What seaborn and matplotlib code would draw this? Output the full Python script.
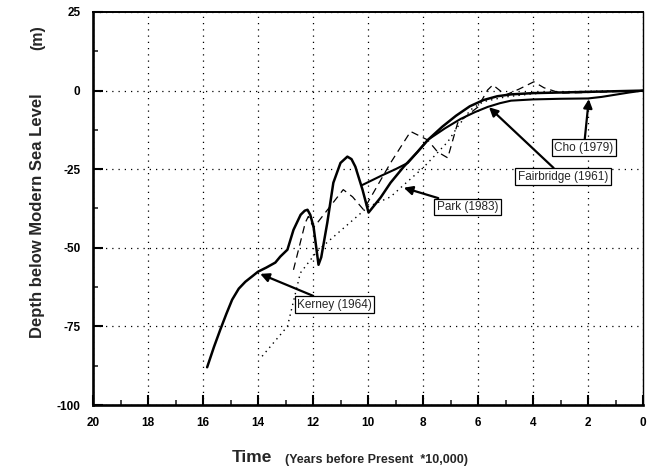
import numpy as np
import pandas as pd
import matplotlib
matplotlib.use("Agg")
import matplotlib.pyplot as plt
from matplotlib.ticker import MultipleLocator
import seaborn as sns

# Kerney (1964) - thick solid curve
kerney_x = [15.85, 15.6, 15.37, 15.15, 14.94, 14.7, 14.46, 14.2, 14.0, 13.7, 13.37, 13.19, 12.93,
            12.71, 12.45, 12.3, 12.2, 12.1, 11.98, 11.88, 11.8, 11.7, 11.6, 11.48, 11.26, 11.0,
            10.75, 10.6, 10.46, 10.2, 9.98, 9.54, 9.18, 8.7, 8.2, 7.8, 7.3, 6.8, 6.3, 5.8, 5.3,
            4.8, 4.0, 3.0, 2.0, 1.0, 0.0]
kerney_y = [-88, -81.5, -76, -71, -66.5, -63, -60.8, -59, -57.6, -56.3, -54.7, -52.8, -50.6,
            -44.3, -39.5, -38.2, -37.9, -39.5, -43.3, -50, -55.4, -53, -48, -42, -29.3, -23,
            -21, -21.8, -24.2, -31.5, -38.8, -34, -29.3, -24.2, -19.5, -15.5, -11.5, -8, -5, -3,
            -1.8, -1.2, -0.8, -0.6, -0.4, -0.2, 0]

# Cho (1979) - solid curve starting near 10 ka
cho_x = [10.2, 9.5, 9.0, 8.55, 8.2, 7.83, 7.2, 6.63, 6.1, 5.65, 5.2, 4.8, 4.0, 3.0, 2.0, 1.5,
         1.0, 0.5, 0.0]
cho_y = [-30, -27, -25, -23, -19.5, -15.7, -12, -9, -6.8, -5.2, -4, -3.2, -2.8, -2.6, -2.5, -2,
         -1.3, -0.6, 0]

# Park (1983) - dotted
park_x = [13.85, 12.93, 12.46, 11.84, 11.37, 10.0, 9.18, 8.7, 8.0, 7.5, 7.1, 6.74, 6.27, 5.8,
          5.0, 4.0, 3.0, 2.0, 0.0]
park_y = [-84.5, -75, -58, -51, -47.4, -37, -33.8, -30, -24.6, -20, -16.3, -11.5, -6.1, -3.5,
          -2, -1, -0.5, -0.2, 0]

# Fairbridge (1961) - dashed
fair_x = [12.71, 12.28, 12.17, 11.98, 10.9, 10.56, 10.16, 9.18, 8.45, 7.83, 7.47, 7.1, 6.74,
          6.0, 5.65, 5.46, 5.0, 4.5, 3.97, 3.6, 3.0, 2.0, 1.0, 0.0]
fair_y = [-57, -42, -40, -43.6, -31.5, -33.8, -37.9, -23, -13, -15.7, -19.5, -21.4, -10.3,
          -5.2, 0.2, 1.8, -1.4, 0.5, 2.8, 0.9, -0.8, -0.6, -0.3, 0]

x_ticks = [20, 18, 16, 14, 12, 10, 8, 6, 4, 2, 0]
y_ticks = [25, 0, -25, -50, -75, -100]

sns.set_style("ticks")
plt.rcParams['font.family'] = ['Liberation Sans', 'DejaVu Sans']
plt.rcParams['axes.unicode_minus'] = False

fig = plt.figure(figsize=(6.49, 4.71), dpi=100)
ax = fig.add_axes([93 / 649, 1 - 405 / 471, 550 / 649, 393 / 471])

sns.lineplot(x=kerney_x, y=kerney_y, ax=ax, color='black', lw=1.8, sort=False)
sns.lineplot(x=cho_x, y=cho_y, ax=ax, color='black', lw=1.5, sort=False)
sns.lineplot(x=park_x, y=park_y, ax=ax, color='black', lw=1.0, linestyle=(0, (1, 3)), sort=False)
sns.lineplot(x=fair_x, y=fair_y, ax=ax, color='black', lw=0.9, linestyle=(0, (6, 4)), sort=False)

ax.set_xlim(20, 0)
ax.set_ylim(-100, 25)
ax.set_xticks(x_ticks)
ax.set_yticks(y_ticks)
ax.xaxis.set_minor_locator(MultipleLocator(1))
ax.yaxis.set_minor_locator(MultipleLocator(12.5))
ax.grid(True, which='major', color='black', linestyle=(0, (1, 4)), lw=0.9)

for lbl in ax.get_xticklabels() + ax.get_yticklabels():
    lbl.set_fontweight('bold')
ax.tick_params(which='major', direction='in', length=7, width=1.5, labelsize=8.5, colors='black')
ax.tick_params(axis='x', which='major', pad=9)
ax.tick_params(axis='y', which='major', pad=9)
ax.tick_params(which='minor', direction='in', length=3.5, width=1.2)

ax.spines['left'].set_linewidth(1.9)
ax.spines['bottom'].set_linewidth(1.9)
ax.spines['top'].set_linewidth(1.4)
ax.spines['right'].set_linewidth(1.0)
for s in ax.spines.values():
    s.set_color('black')

ax.set_xlabel('')
ax.set_ylabel('Depth below Modern Sea Level', fontsize=12, fontweight='bold')
ax.yaxis.set_label_coords(-0.087, 0.481)
fig.text(38 / 649, 1 - 38 / 471, '(m)', rotation=90, ha='center', va='center',
         fontsize=11.5, fontweight='bold')

fig.text(232 / 649, 1 - 462 / 471, 'Time', fontsize=12.5, fontweight='bold', va='baseline')
fig.text(285 / 649, 1 - 463 / 471, '(Years before Present  *10,000)', fontsize=9,
         fontweight='bold', va='baseline')

box = dict(boxstyle='square,pad=0.2', fc='white', ec='black', lw=0.9)
arrow = dict(arrowstyle='-|>', color='black', lw=1.6, mutation_scale=13, shrinkA=0, shrinkB=0)
notes = [
    ('Kerney (1964)', (13.92, -58.3), (11.22, -68.1)),
    ('Park (1983)', (8.7, -30.9), (6.38, -37.0)),
    ('Fairbridge (1961)', (5.6, -5.3), (2.91, -27.4)),
    ('Cho (1979)', (1.97, -2.7), (2.15, -18.2)),
]
for text, xy, xytext in notes:
    ax.annotate(text, xy=xy, xytext=xytext, ha='center', va='center', fontsize=8.5,
                bbox=box, arrowprops=arrow)

fig.savefig('out.png', dpi=100)
